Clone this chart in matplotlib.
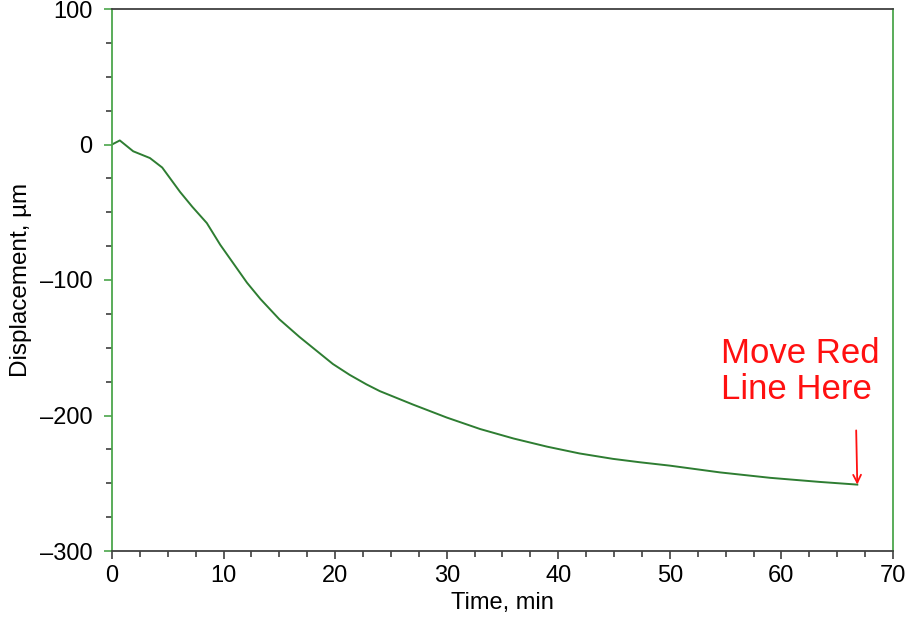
import matplotlib.pyplot as plt
from matplotlib.ticker import MultipleLocator

plt.rcParams['font.family'] = ['Liberation Sans', 'DejaVu Sans']

# values
time_min = [0, 0.7, 1.9, 3.4, 4.5, 6.1, 7.2, 8.5, 9.7, 10.9, 12.1, 13.3,
            15.0, 16.8, 18.3, 19.8, 21.3, 22.8, 24.0, 27.0, 30.0, 33.0,
            36.0, 39.0, 41.9, 44.9, 47.3, 50.0, 54.5, 59.0, 63.4, 66.8]
displacement = [0, 3, -5, -10, -17, -35, -46, -58, -74, -88, -102, -114,
                -129, -142, -152, -162, -170, -177, -182, -192, -201.5,
                -210, -217, -223, -228, -232, -234.5, -237, -242, -246,
                -249, -251]

note_text = "Move Red\nLine Here"
arrow_x = 66.8
arrow_top = -211
arrow_end = -251

green_axis = '#4ca64c'
gray_axis = '#404040'

fig = plt.figure(figsize=(9.06, 6.18), dpi=100)
ax = fig.add_axes([112/906, 67/618, 781/906, 542/618])

ax.plot(time_min, displacement, color='#2e7d32', lw=1.4)

ax.set_xlim(0, 70)
ax.set_ylim(-300, 100)
ax.xaxis.set_major_locator(MultipleLocator(10))
ax.xaxis.set_minor_locator(MultipleLocator(2.5))
ax.yaxis.set_major_locator(MultipleLocator(100))
ax.yaxis.set_minor_locator(MultipleLocator(25))

ax.spines['left'].set_color(green_axis)
ax.spines['right'].set_color(green_axis)
ax.spines['top'].set_color(gray_axis)
ax.spines['bottom'].set_color(gray_axis)
for s in ax.spines.values():
    s.set_linewidth(1.3)

ax.tick_params(axis='x', which='both', direction='out', color=gray_axis,
               labelsize=17, pad=4)
ax.tick_params(axis='x', which='major', length=6, width=1.2)
ax.tick_params(axis='x', which='minor', length=4, width=1.2)
ax.tick_params(axis='y', which='major', direction='out', color=green_axis,
               length=6, width=1.2, labelsize=17, pad=8)
ax.tick_params(axis='y', which='minor', direction='out', color=gray_axis,
               length=4, width=1.2)

ax.set_yticklabels([f"{v:.0f}".replace('-', '\u2013') for v in ax.get_yticks()])

ax.set_xlabel("Time, min", fontsize=17, labelpad=4)
ax.set_ylabel("Displacement, \u00b5m", fontsize=17.5, labelpad=6)

ax.text(54.6, -142, note_text, color='#ff1010', fontsize=25,
        linespacing=1.1, ha='left', va='top')
ax.annotate('', xy=(arrow_x, arrow_end), xytext=(arrow_x - 0.1, arrow_top),
            arrowprops=dict(arrowstyle='->', color='#ff1010', lw=1.3,
                            mutation_scale=14, shrinkA=0, shrinkB=0))

fig.savefig('out.png', dpi=100)
